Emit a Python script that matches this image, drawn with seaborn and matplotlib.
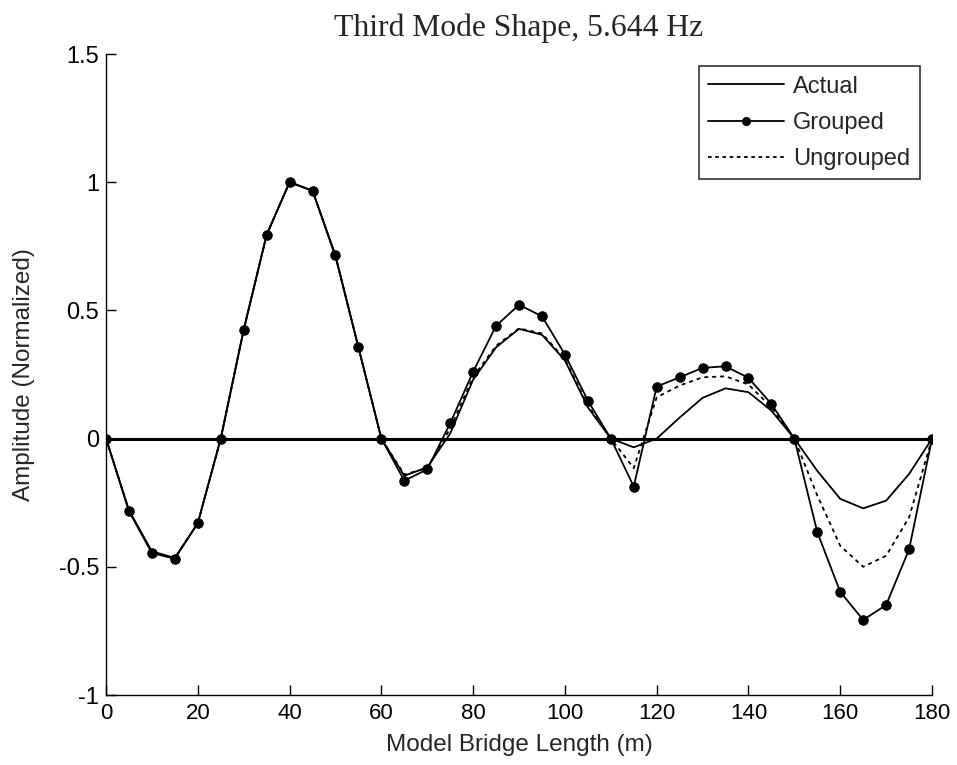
import numpy as np
import pandas as pd
import matplotlib
matplotlib.use("Agg")
import matplotlib.pyplot as plt
import seaborn as sns
from matplotlib.lines import Line2D

x = [0, 5, 10, 15, 20, 25, 30, 35, 40, 45, 50, 55, 60, 65, 70, 75, 80, 85, 90,
     95, 100, 105, 110, 115, 120, 125, 130, 135, 140, 145, 150, 155, 160, 165,
     170, 175, 180]

actual = [0, -0.28, -0.44, -0.465, -0.33, 0, 0.425, 0.795, 1.0, 0.967, 0.71, 0.356,
          0, -0.145, -0.112, 0.02, 0.23, 0.356, 0.428, 0.405, 0.305, 0.122,
          0, -0.034, 0.0, 0.082, 0.159, 0.196, 0.181, 0.109,
          0, -0.126, -0.235, -0.272, -0.242, -0.138, 0]

grouped = [0, -0.283, -0.447, -0.468, -0.329, 0, 0.424, 0.795, 1.0, 0.967, 0.715, 0.356,
           0, -0.164, -0.12, 0.06, 0.261, 0.44, 0.522, 0.477, 0.328, 0.148,
           0, -0.187, 0.203, 0.239, 0.276, 0.282, 0.237, 0.135,
           0, -0.365, -0.598, -0.707, -0.649, -0.432, 0]

ungrouped = [0, -0.28, -0.445, -0.466, -0.33, 0, 0.425, 0.795, 1.0, 0.967, 0.712, 0.356,
             0, -0.14, -0.115, 0.04, 0.24, 0.362, 0.43, 0.41, 0.31, 0.13,
             0, -0.115, 0.161, 0.207, 0.239, 0.243, 0.211, 0.122,
             0, -0.222, -0.418, -0.5, -0.457, -0.307, 0]

series_names = ["Actual", "Grouped", "Ungrouped"]

df = pd.concat([
    pd.DataFrame({"x": x, "y": actual, "series": "Actual"}),
    pd.DataFrame({"x": x, "y": grouped, "series": "Grouped"}),
    pd.DataFrame({"x": x, "y": ungrouped, "series": "Ungrouped"}),
])

sns.set_style("ticks")
plt.rcParams["font.family"] = ["Liberation Sans", "DejaVu Sans"]

fig = plt.figure(figsize=(9.57, 7.65), dpi=100)
ax = fig.add_axes([0.1108, 0.0915, 0.8631, 0.8379])

ax.axhline(0, color="black", lw=2.2, zorder=1)

styles = {
    "Actual": dict(color="black", lw=1.3, ls="-", marker=None),
    "Grouped": dict(color="black", lw=1.3, ls="-", marker="o"),
    "Ungrouped": dict(color="black", lw=1.3, ls=(0, (2.2, 2.2)), marker=None),
}
for name in ["Ungrouped", "Actual", "Grouped"]:
    st = styles[name]
    sub = df[df["series"] == name]
    sns.lineplot(data=sub, x="x", y="y", ax=ax, color=st["color"], lw=st["lw"],
                 linestyle=st["ls"], marker=st["marker"], markersize=6.8,
                 markeredgecolor="black", markerfacecolor="black",
                 legend=False, estimator=None, sort=False, zorder=3)

ax.set_xlim(0, 180)
ax.set_ylim(-1, 1.5)
ax.set_xticks([0, 20, 40, 60, 80, 100, 120, 140, 160, 180])
ax.set_yticks([-1, -0.5, 0, 0.5, 1, 1.5])
ax.set_yticklabels(["-1", "-0.5", "0", "0.5", "1", "1.5"])
ax.tick_params(direction="in", length=7, width=1, colors="black")
ax.tick_params(axis="x", labelsize=16, pad=6)
ax.tick_params(axis="y", labelsize=17, pad=5)
for s in ["top", "right"]:
    ax.spines[s].set_visible(False)
for s in ["left", "bottom"]:
    ax.spines[s].set_color("black")
    ax.spines[s].set_linewidth(1)

ax.set_xlabel("Model Bridge Length (m)", fontsize=17.5, labelpad=7)
ax.set_ylabel("Amplitude (Normalized)", fontsize=17.5, labelpad=17)
ax.set_title("Third Mode Shape, 5.644 Hz", fontsize=22.8, family=["Liberation Serif"], pad=13)

handles = [
    Line2D([], [], color="black", lw=1.3),
    Line2D([], [], color="black", lw=1.3, marker="o", markersize=5.5),
    Line2D([], [], color="black", lw=1.3, ls=(0, (2, 2))),
]
leg = ax.legend(handles, series_names, loc="upper right", bbox_to_anchor=(0.985, 0.981),
                fontsize=17, handlelength=3.2, frameon=True, fancybox=False,
                edgecolor="black", borderpad=0.4, labelspacing=0.6, handletextpad=0.4,
                borderaxespad=0)
leg.get_frame().set_linewidth(1.2)

fig.savefig("out.png", dpi=100, facecolor="white")
